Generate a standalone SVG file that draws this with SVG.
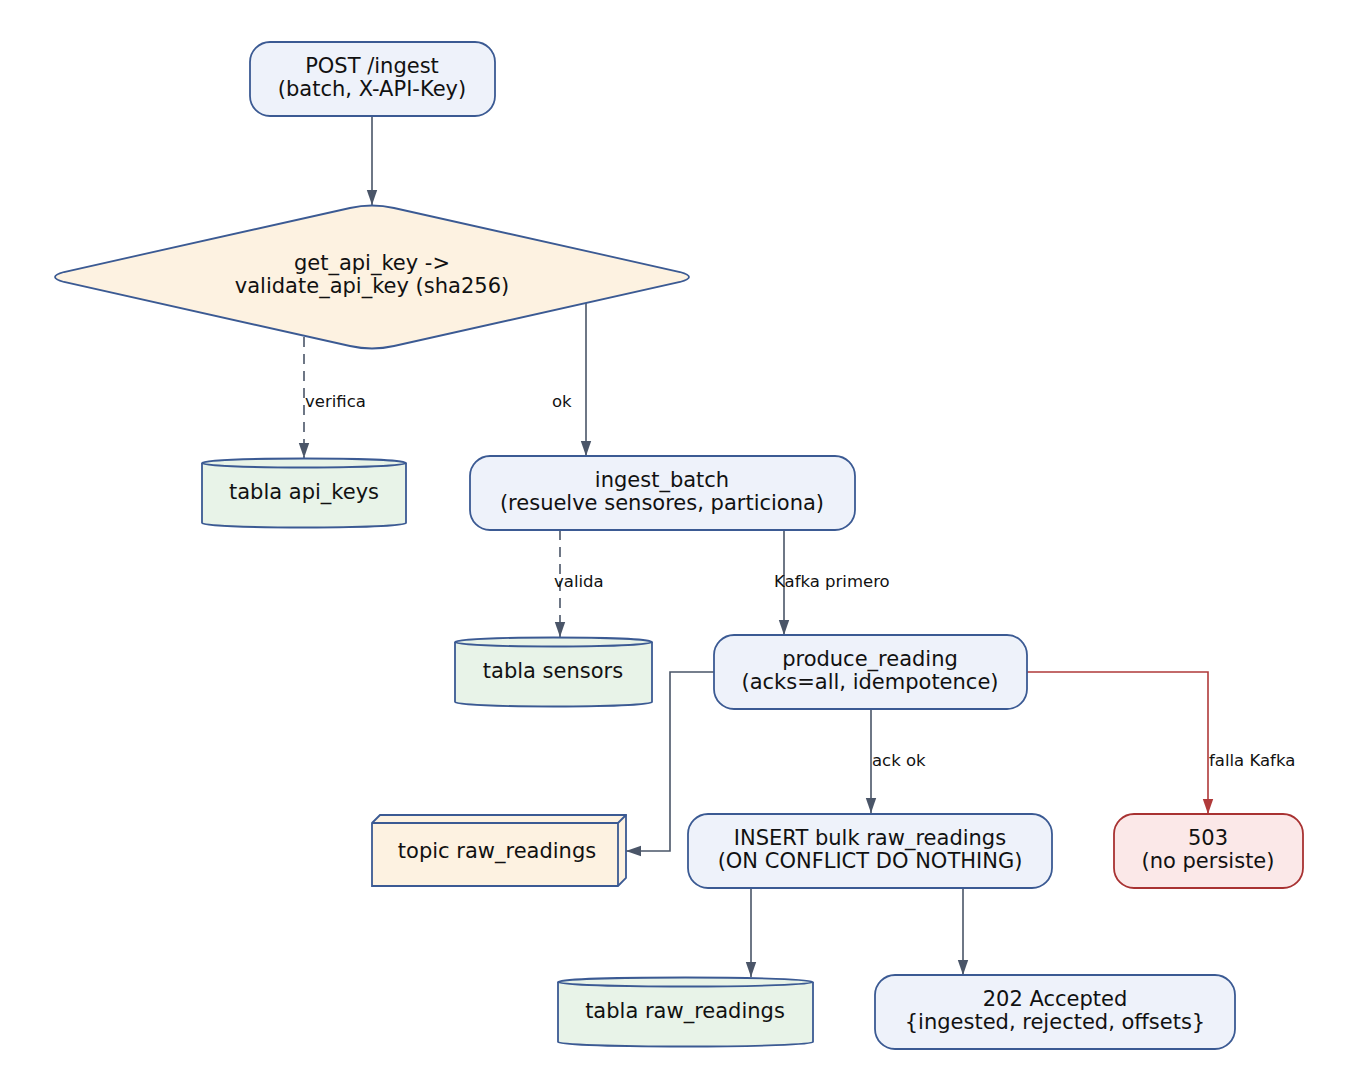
<svg xmlns="http://www.w3.org/2000/svg" width="1345" height="1091" viewBox="0 0 1345 1091">
<style>
text{font-family:"DejaVu Sans",sans-serif;font-size:21px;fill:#111;text-anchor:middle}
.lbl{font-size:16.5px;text-anchor:start}
.box{fill:#EEF2FA;stroke:#3B5A93;stroke-width:1.8}
.dia{fill:#FDF2E1;stroke:#3B5A93;stroke-width:1.8}
.db{fill:#E8F3E8;stroke:#3B5A93;stroke-width:1.8}
.topic{fill:#FDF2E1;stroke:#3B5A93;stroke-width:1.8}
.err{fill:#FBE8E8;stroke:#A83232;stroke-width:1.8}
.e{fill:none;stroke:#4A5568;stroke-width:1.6}
.d{stroke-dasharray:10,7}
.r{fill:none;stroke:#B03A3A;stroke-width:1.6}
</style>
<defs>
<marker id="ah" markerUnits="userSpaceOnUse" markerWidth="16" markerHeight="12" refX="15" refY="6" orient="auto"><path d="M0,0.8 L15,6 L0,11.2 Z" fill="#4A5568"/></marker>
<marker id="ahr" markerUnits="userSpaceOnUse" markerWidth="16" markerHeight="12" refX="15" refY="6" orient="auto"><path d="M0,0.8 L15,6 L0,11.2 Z" fill="#B03A3A"/></marker>
</defs>
<rect width="1345" height="1091" fill="#fff"/>
<g id="edges">
<path class="e" d="M372,116 V205" marker-end="url(#ah)"/>
<path class="e d" d="M304,337 V458" marker-end="url(#ah)"/>
<text class="lbl" x="305" y="407">verifica</text>
<path class="e" d="M586,303 V456" marker-end="url(#ah)"/>
<text class="lbl" x="552" y="407">ok</text>
<path class="e d" d="M560,530 V637" marker-end="url(#ah)"/>
<text class="lbl" x="554" y="587">valida</text>
<path class="e" d="M784,530 V635" marker-end="url(#ah)"/>
<text class="lbl" x="774" y="587">Kafka primero</text>
<path class="e" d="M714,672 H670 V851 H626" marker-end="url(#ah)"/>
<path class="r" d="M1027,672 H1208 V814" marker-end="url(#ahr)"/>
<text class="lbl" x="1209" y="766">falla Kafka</text>
<path class="e" d="M871,709 V813" marker-end="url(#ah)"/>
<text class="lbl" x="872" y="766">ack ok</text>
<path class="e" d="M751,888 V977" marker-end="url(#ah)"/>
<path class="e" d="M963,888 V975" marker-end="url(#ah)"/>
</g>
<g id="post"><rect class="box" x="250" y="42" width="245" height="74" rx="20"/><text x="372" y="73">POST /ingest</text><text x="372" y="96">(batch, X-API-Key)</text></g>
<g id="validate"><path class="dia" d="M350,208 Q372,203 394,208 L680,272 Q698,277 680,282 L394,346 Q372,351 350,346 L64,282 Q46,277 64,272 Z"/><text x="372" y="270">get_api_key -&gt;</text><text x="372" y="293">validate_api_key (sha256)</text></g>
<g id="api_keys"><path class="db" d="M202,463 A102,4.5 0 0 1 406,463 V523 A102,4.5 0 0 1 202,523 Z"/><path class="db" d="M202,463 A102,4.5 0 0 0 406,463" fill="none"/><text x="304" y="499">tabla api_keys</text></g>
<g id="ingest_batch"><rect class="box" x="470" y="456" width="385" height="74" rx="20"/><text x="662" y="487">ingest_batch</text><text x="662" y="510">(resuelve sensores, particiona)</text></g>
<g id="sensors"><path class="db" d="M455,642 A98.5,4.5 0 0 1 652,642 V702 A98.5,4.5 0 0 1 455,702 Z"/><path class="db" d="M455,642 A98.5,4.5 0 0 0 652,642" fill="none"/><text x="553" y="678">tabla sensors</text></g>
<g id="produce"><rect class="box" x="714" y="635" width="313" height="74" rx="20"/><text x="870" y="666">produce_reading</text><text x="870" y="689">(acks=all, idempotence)</text></g>
<g id="topic"><path class="topic" d="M372,823 L380,815 H626 V878 L618,886 H372 Z"/><path fill="none" stroke="#3B5A93" stroke-width="1.8" d="M372,823 H618 L626,815 M618,823 V886"/><text x="497" y="858">topic raw_readings</text></g>
<g id="insert"><rect class="box" x="688" y="814" width="364" height="74" rx="20"/><text x="870" y="845">INSERT bulk raw_readings</text><text x="870" y="868">(ON CONFLICT DO NOTHING)</text></g>
<g id="e503"><rect class="err" x="1114" y="814" width="189" height="74" rx="20"/><text x="1208" y="845">503</text><text x="1208" y="868">(no persiste)</text></g>
<g id="raw_readings"><path class="db" d="M558,982 A127.5,4.5 0 0 1 813,982 V1042 A127.5,4.5 0 0 1 558,1042 Z"/><path class="db" d="M558,982 A127.5,4.5 0 0 0 813,982" fill="none"/><text x="685" y="1018">tabla raw_readings</text></g>
<g id="accepted"><rect class="box" x="875" y="975" width="360" height="74" rx="20"/><text x="1055" y="1006">202 Accepted</text><text x="1055" y="1029">{ingested, rejected, offsets}</text></g>
</svg>
